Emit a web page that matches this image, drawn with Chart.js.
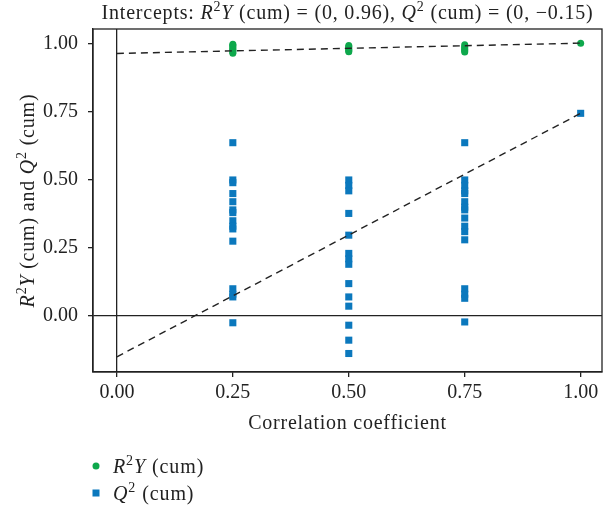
<!DOCTYPE html>
<html><head><meta charset="utf-8">
<script src="https://cdn.jsdelivr.net/npm/chart.js@4/dist/chart.umd.min.js"></script>
<style>html,body{margin:0;padding:0;background:#fff;}#wrap{width:607px;height:505px;}</style>
</head><body><div id="wrap"><canvas id="c" width="607" height="505"></canvas></div>
<script>
// ---- data ----
const xTicks = [0, 0.25, 0.5, 0.75, 1];
const yTicks = [0, 0.25, 0.5, 0.75, 1];
const r2yAt025 = [0.999, 0.995, 0.99, 0.985, 0.98, 0.975, 0.97, 0.966];
const r2yAt050 = [0.994, 0.99, 0.985, 0.98, 0.975, 0.971];
const r2yAt075 = [0.997, 0.99, 0.985, 0.98, 0.975, 0.97];
const r2yAt100 = [1.003];
const q2At025 = [0.637, 0.50, 0.49, 0.45, 0.42, 0.39, 0.38, 0.35, 0.33, 0.32, 0.275, 0.10, 0.08, 0.07, -0.025];
const q2At050 = [0.50, 0.48, 0.46, 0.377, 0.297, 0.23, 0.21, 0.19, 0.119, 0.07, 0.036, -0.034, -0.089, -0.138];
const q2At075 = [0.637, 0.50, 0.48, 0.46, 0.45, 0.42, 0.40, 0.39, 0.36, 0.33, 0.31, 0.28, 0.10, 0.08, 0.065, -0.022];
const q2At100 = [0.745];
const lineX = [0, 1];
const r2yLine = [0.965, 1.003];
const q2Line = [-0.15, 0.745];

const GREEN = '#0ea84c';
const BLUE = '#0b78bd';
const FAM = "'Liberation Serif', 'Times New Roman', serif";

function pts(x, arr) { return arr.map(v => ({x: x, y: v})); }
const r2yData = [].concat(pts(0.25, r2yAt025), pts(0.5, r2yAt050), pts(0.75, r2yAt075), pts(1, r2yAt100));
const q2Data = [].concat(pts(0.25, q2At025), pts(0.5, q2At050), pts(0.75, q2At075), pts(1, q2At100));

function rich(ctx, segs, x, y, size, align, spacing) {
  const font = s => (s.i ? 'italic ' : '') + (s.sup ? Math.round(size * 0.7) : size) + 'px ' + FAM;
  ctx.letterSpacing = (spacing || 0) + 'px';
  let w = 0;
  segs.forEach(s => { ctx.font = font(s); s.w = ctx.measureText(s.t).width; w += s.w; });
  let cx = align === 'center' ? x - w / 2 : x;
  ctx.textAlign = 'left'; ctx.textBaseline = 'alphabetic';
  segs.forEach(s => { ctx.font = font(s); ctx.fillText(s.t, cx, s.sup ? y - size * 0.38 : y); cx += s.w; });
  ctx.letterSpacing = '0px';
}

const decor = {
  id: 'decor',
  afterDraw(chart) {
    const ctx = chart.ctx, a = chart.chartArea;
    ctx.save();
    ctx.strokeStyle = '#222'; ctx.lineWidth = 1.3;
    ctx.strokeRect(a.left, a.top, a.right - a.left, a.bottom - a.top);
    ctx.fillStyle = '#222';
    const cxm = (a.left + a.right) / 2, cym = (a.top + a.bottom) / 2;
    rich(ctx, [{t: 'Intercepts: '}, {t: 'R', i: 1}, {t: '2', sup: 1}, {t: 'Y', i: 1}, {t: ' (cum) = (0, 0.96), '},
      {t: 'Q', i: 1}, {t: '2', sup: 1}, {t: ' (cum) = (0, \u22120.15)'}], cxm, 19, 20, 'center', 0.8);
    rich(ctx, [{t: 'Correlation coefficient'}], cxm, 429, 20, 'center', 0.75);
    ctx.save();
    ctx.translate(34, cym); ctx.rotate(-Math.PI / 2);
    rich(ctx, [{t: 'R', i: 1}, {t: '2', sup: 1}, {t: 'Y', i: 1}, {t: ' (cum) and '}, {t: 'Q', i: 1}, {t: '2', sup: 1}, {t: ' (cum)'}], 0, 0, 20, 'center', 0.8);
    ctx.restore();
    // legend
    ctx.fillStyle = GREEN;
    ctx.beginPath(); ctx.arc(96, 466, 3.5, 0, Math.PI * 2); ctx.fill();
    ctx.fillStyle = BLUE;
    ctx.fillRect(92.5, 489.5, 7, 7);
    ctx.fillStyle = '#222';
    rich(ctx, [{t: 'R', i: 1}, {t: '2', sup: 1}, {t: 'Y', i: 1}, {t: ' (cum)'}], 113, 473, 20, 'left', 0.9);
    rich(ctx, [{t: 'Q', i: 1}, {t: '2', sup: 1}, {t: ' (cum)'}], 113, 500, 20, 'left', 0.9);
    ctx.restore();
  }
};

const tickFont = {family: FAM, size: 20};
new Chart(document.getElementById('c'), {
  type: 'scatter',
  data: {
    datasets: [
      {label: 'R2Y line', type: 'line', data: lineX.map((x, i) => ({x: x, y: r2yLine[i]})), borderColor: '#222', borderWidth: 1.4, borderDash: [7, 5], pointRadius: 0, fill: false, order: 0},
      {label: 'Q2 line', type: 'line', data: lineX.map((x, i) => ({x: x, y: q2Line[i]})), borderColor: '#222', borderWidth: 1.4, borderDash: [7, 5], pointRadius: 0, fill: false, order: 0},
      {label: 'R2Y (cum)', data: r2yData, pointStyle: 'circle', pointRadius: 3.5, backgroundColor: GREEN, borderColor: GREEN, borderWidth: 0, order: 2},
      {label: 'Q2 (cum)', data: q2Data, pointStyle: 'rect', pointRadius: 5, backgroundColor: BLUE, borderColor: BLUE, borderWidth: 0, order: 1}
    ]
  },
  options: {
    responsive: false, animation: false,
    layout: {padding: {left: 0, top: 29, right: 3, bottom: 0}},
    plugins: {legend: {display: false}, title: {display: false}, tooltip: {enabled: false}},
    scales: {
      x: {
        type: 'linear', min: -0.0515, max: 1.046,
        afterBuildTicks: s => { s.ticks = xTicks.map(v => ({value: v})); },
        afterFit: s => { s.height = 133; },
        ticks: {font: tickFont, color: '#222', padding: 4, callback: v => Number(v).toFixed(2), maxRotation: 0, autoSkip: false},
        grid: {drawOnChartArea: true, color: c => (c.tick && c.tick.value === 0) ? '#222' : 'rgba(0,0,0,0)', lineWidth: 1.3, tickColor: '#222', tickLength: 5},
        border: {display: true, color: '#222', width: 1.3}
      },
      y: {
        type: 'linear', min: -0.206, max: 1.055,
        afterBuildTicks: s => { s.ticks = yTicks.map(v => ({value: v})); },
        afterFit: s => { s.width = 93; },
        ticks: {font: tickFont, color: '#222', padding: 10, callback: v => Number(v).toFixed(2), autoSkip: false},
        grid: {drawOnChartArea: true, color: c => (c.tick && c.tick.value === 0) ? '#222' : 'rgba(0,0,0,0)', lineWidth: 1.3, tickColor: '#222', tickLength: 5},
        border: {display: true, color: '#222', width: 1.3}
      }
    }
  },
  plugins: [decor]
});
</script></body></html>
